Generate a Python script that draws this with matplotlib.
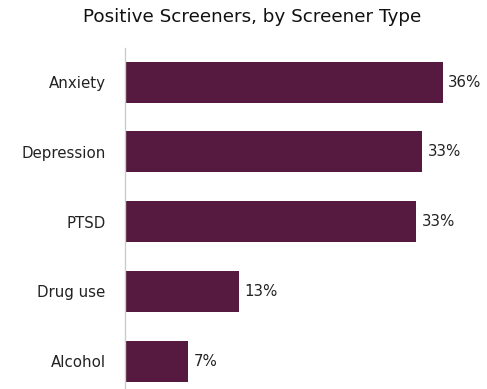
import matplotlib
matplotlib.use("Agg")
import matplotlib.pyplot as plt

categories = ["Anxiety", "Depression", "PTSD", "Drug use", "Alcohol"]
values = [35.7, 33.4, 32.7, 12.8, 7.1]
labels = ["36%", "33%", "33%", "13%", "7%"]

plt.rcParams['font.family'] = ['DejaVu Sans']
color = "#561940"

fig = plt.figure(figsize=(4.87, 3.89), dpi=100)
ax = fig.add_axes([125/487, 0, (487-125)/487, (389-48)/389])

ypos = list(range(len(categories)))
ax.barh(ypos, values, height=0.59, color=color)
ax.set_ylim(4.4, -0.49)
ax.set_xlim(0, 40.7)
ax.set_yticks(ypos)
ax.set_yticklabels(categories, fontsize=10.8, color="#222222")
ax.tick_params(axis='y', length=0, pad=14)
ax.set_xticks([])
for s in ["top", "right", "bottom"]:
    ax.spines[s].set_visible(False)
ax.spines["left"].set_color("#cccccc")
ax.spines["left"].set_linewidth(1)

for y, v, lab in zip(ypos, values, labels):
    ax.text(v + 0.65, y, lab, va="center", ha="left", fontsize=10.8, color="#222222")

fig.text(252/487, 1 - 17/389, "Positive Screeners, by Screener Type", ha="center", va="center",
         fontsize=13.2, color="#111111")

fig.savefig("out.png", dpi=100)
